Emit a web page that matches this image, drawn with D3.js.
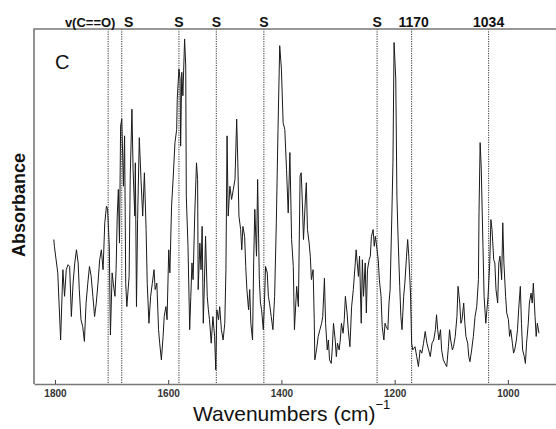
<!DOCTYPE html>
<html>
<head>
<meta charset="utf-8">
<script src="https://cdn.jsdelivr.net/npm/d3@7"></script>
<style>
    body { margin: 0; background: #fff; }
    svg { display: block; font-family: 'Liberation Sans', Arial, sans-serif; }
</style>
</head>
<body>
<div id="display"></div>
<script>
// spectrum (wavenumber in cm-1, absorbance in arbitrary units)
let wavenumbers = [
    1802, 1801, 1795, 1790, 1786, 1783, 1780, 1777, 1774, 1771, 1768, 1765, 1762, 1759, 1757, 1754,
    1751, 1748, 1745, 1742, 1739, 1736, 1733, 1730, 1727, 1724, 1721, 1718, 1715, 1712, 1709, 1707,
    1704, 1702, 1699, 1697, 1694, 1692, 1690, 1688, 1686, 1684, 1682, 1679, 1677, 1675, 1673, 1669,
    1667, 1664, 1662, 1659, 1658, 1656, 1654, 1651, 1648, 1645, 1642, 1639, 1637, 1634, 1631, 1628,
    1625, 1623, 1620, 1617, 1615, 1612, 1609, 1607, 1604, 1602, 1599, 1597, 1594,
    1591, 1588, 1585, 1584, 1581, 1579, 1578, 1576, 1574, 1571, 1569, 1568, 1565, 1562, 1560, 1558,
    1556, 1553, 1550, 1548, 1547, 1544, 1542, 1540, 1538, 1536, 1534, 1531, 1529, 1527, 1524, 1521,
    1518, 1516, 1514, 1511, 1509, 1506, 1503, 1500, 1498, 1496, 1494, 1491, 1488, 1485, 1482, 1479,
    1477, 1475, 1472, 1470, 1468, 1465, 1463, 1461, 1458, 1456, 1454, 1451, 1449, 1447, 1444, 1442,
    1439, 1437, 1435, 1432, 1430, 1428, 1425, 1423, 1421, 1418, 1415, 1412, 1409, 1406, 1403, 1400,
    1397, 1394, 1391, 1388, 1385, 1382, 1379, 1377,
    1373, 1370, 1367, 1365, 1363, 1361, 1358, 1356, 1354, 1351, 1349, 1347, 1344, 1342, 1341, 1338,
    1335, 1332, 1329, 1327, 1324, 1322, 1319, 1317, 1315, 1312, 1310, 1308, 1305, 1303, 1301, 1298,
    1296, 1294, 1291, 1289, 1287, 1284, 1282, 1279, 1276, 1273, 1270, 1268, 1266, 1264, 1262, 1259,
    1257, 1255, 1252, 1250, 1248, 1245, 1243, 1241, 1238, 1236, 1234, 1231, 1229, 1227, 1224, 1222,
    1219, 1217, 1215, 1212, 1210, 1208, 1205, 1203, 1201, 1198, 1196, 1194, 1191, 1189, 1187, 1184,
    1182, 1179, 1177, 1175, 1172, 1170, 1168, 1164,
    1161, 1158, 1155, 1152, 1149, 1146, 1143, 1140, 1137, 1134, 1131, 1128, 1126, 1124, 1122, 1119,
    1117, 1114, 1111, 1108, 1105, 1103, 1101, 1098, 1096, 1093, 1090, 1088, 1085, 1083, 1081, 1078,
    1076, 1074, 1071, 1069, 1067, 1064, 1061, 1058, 1055, 1052, 1051, 1049, 1047, 1044, 1042, 1039,
    1037, 1035, 1032, 1030, 1028, 1025, 1023, 1021, 1018, 1016, 1014, 1011, 1009, 1007, 1004, 1002,
    999, 997, 995, 992, 990, 988, 985, 983, 981, 978, 976, 974, 971, 969, 967, 964,
    962, 959, 957, 955, 952, 950, 948, 945
];
let absorbance = [
    40.7, 38.8, 31.3, 12.4, 32.2, 24.7, 32.2, 33.6, 33.1, 19.0, 28.4, 34.1, 37.8, 34.1, 26.6, 18.1,
    16.2, 12.0, 22.8, 28.4, 33.1, 30.3, 24.7, 19.0, 22.8, 28.4, 35.0, 37.8, 32.2, 45.4, 50.1, 49.2,
    38.8, 13.8, 31.3, 28.4, 24.7, 32.2, 47.3, 54.8, 39.7, 72.7, 74.6, 55.7, 69.9, 28.4, 21.8, 30.3,
    58.6, 77.4, 60.5, 47.3, 62.3, 21.8, 46.3, 69.4, 57.6, 47.3, 59.5, 43.5, 28.4, 17.1, 24.7, 28.4,
    32.2, 26.6, 28.4, 15.3, 11.5, 6.8, 13.4, 19.0, 21.8, 18.1, 37.8, 31.3, 50.1,
    58.6, 68.0, 71.7, 80.2, 88.7, 85.9, 67.0, 87.8, 81.2, 97.2, 89.6, 52.9, 38.8, 15.3, 24.7, 34.1,
    29.4, 48.2, 62.3, 57.6, 26.6, 39.7, 32.2, 44.4, 17.1, 28.4, 41.6, 24.7, 20.9, 18.1, 11.5, 19.0,
    13.4, 4.0, 20.9, 18.1, 21.8, 15.3, 12.4, 17.1, 32.2, 69.9, 47.3, 55.7, 52.0, 54.8, 57.6, 74.6,
    62.3, 47.3, 43.5, 37.8, 44.4, 41.6, 33.1, 26.6, 20.9, 26.6, 17.1, 12.4, 34.1, 49.2, 36.0, 57.6,
    29.4, 22.8, 20.9, 15.3, 22.8, 33.1, 31.3, 24.7, 22.8, 19.0, 15.3, 24.7, 45.4, 71.7, 95.3, 88.7,
    73.6, 71.7, 60.5, 48.2, 65.2, 40.7, 33.1, 15.3,
    27.5, 21.8, 58.6, 59.5, 51.0, 40.7, 51.0, 56.7, 43.5, 39.7, 36.0, 29.4, 32.2, 18.1, 6.8, 9.6,
    13.4, 15.3, 17.1, 19.0, 29.8, 17.1, 9.6, 12.4, 6.8, 5.8, 10.5, 17.1, 12.4, 7.7, 11.5, 9.6,
    12.4, 17.1, 14.3, 18.1, 24.7, 20.0, 15.3, 10.5, 21.8, 26.6, 33.1, 37.8, 34.1, 30.3, 36.0, 17.1,
    35.0, 24.7, 34.1, 20.0, 32.2, 35.0, 36.0, 41.6, 43.5, 38.8, 41.6, 37.8, 35.0, 29.4, 24.7, 16.2,
    12.4, 17.1, 16.2, 15.3, 22.8, 26.6, 47.3, 62.3, 96.2, 85.9, 52.9, 41.6, 27.5, 19.0, 15.3, 24.7,
    28.4, 36.0, 40.7, 36.0, 25.6, 11.5, 9.6, 10.5,
    7.7, 4.9, 9.6, 8.7, 11.5, 14.8, 11.5, 9.6, 7.7, 11.5, 12.4, 15.3, 19.5, 15.3, 12.4, 15.3,
    9.6, 6.8, 5.8, 4.9, 10.5, 15.3, 12.4, 9.6, 10.5, 13.4, 19.0, 27.5, 22.8, 17.1, 18.1, 22.8,
    17.1, 13.4, 11.5, 7.7, 6.3, 9.6, 13.4, 19.0, 21.8, 29.4, 48.2, 68.0, 60.5, 38.8, 24.7, 17.1,
    20.9, 24.7, 34.1, 46.3, 43.5, 35.0, 34.1, 26.6, 22.8, 34.1, 36.0, 29.4, 45.4, 34.1, 24.7, 20.0,
    18.1, 13.4, 15.3, 11.5, 8.7, 9.6, 12.4, 15.3, 20.9, 27.5, 17.1, 9.6, 7.7, 5.8, 11.5, 17.1,
    22.8, 25.6, 22.8, 28.4, 19.0, 13.4, 17.1, 14.3
];

// band assignments marked with dotted lines
let markerWavenumbers = [1706, 1682, 1581, 1515, 1431, 1231, 1170, 1034];
let markerLabels = ['v(C==O)', 'S', 'S', 'S', 'S', 'S', '1170', '1034'];

let xTicks = [1800, 1600, 1400, 1200, 1000];

let width = 556;
let height = 429;
let frame = {left: 34, right: 556, top: 29, bottom: 384};

let svg = d3.select('#display')
    .append('svg')
        .attr('width', width)
        .attr('height', height);

// reversed wavenumber axis
let xScale = d3.scaleLinear()
    .domain([1837, 915])
    .range([frame.left, frame.right]);

let yScale = d3.scaleLinear()
    .domain([0, 100])
    .range([frame.bottom, frame.top]);

// dotted marker lines
svg.append('g')
    .selectAll('line')
    .data(markerWavenumbers)
    .join('line')
        .attr('x1', d => xScale(d))
        .attr('x2', d => xScale(d))
        .attr('y1', frame.top)
        .attr('y2', frame.bottom)
        .attr('stroke', '#333')
        .attr('stroke-width', 1)
        .attr('stroke-dasharray', '1.2,1.2');

// spectrum
let points = wavenumbers.map((w, i) => [w, absorbance[i]]);
svg.append('path')
    .datum(points)
    .attr('fill', 'none')
    .attr('stroke', '#1a1a1a')
    .attr('stroke-width', 1)
    .attr('d', d3.line()
        .x(d => xScale(d[0]))
        .y(d => yScale(d[1])));

// bottom axis, ticks pointing inwards
let xAxis = svg.append('g')
    .attr('transform', 'translate(0,' + frame.bottom + ')')
    .call(d3.axisBottom(xScale)
        .tickValues(xTicks)
        .tickFormat(d3.format('d'))
        .tickSizeInner(-4)
        .tickSizeOuter(0)
        .tickPadding(6));
xAxis.select('.domain')
    .attr('stroke', '#777')
    .attr('stroke-width', 1.6);
xAxis.selectAll('.tick line')
    .attr('stroke', '#444');
xAxis.selectAll('.tick text')
    .attr('fill', '#333')
    .style('font-size', '10px')
    .style('font-weight', 'bold')
    .style('font-family', "'Liberation Sans', Arial, sans-serif");

// left and top frame lines
svg.append('path')
    .attr('d', 'M' + frame.left + ',' + frame.bottom + 'V' + frame.top + 'H' + frame.right)
    .attr('fill', 'none')
    .attr('stroke', '#777')
    .attr('stroke-width', 1.6);

// labels over the marker lines, first two nudged apart
let labelDx = [-18, 7, 0, 0, 0, 0, 2, 0];
svg.append('g')
    .selectAll('text')
    .data(markerLabels)
    .join('text')
        .attr('x', (d, i) => xScale(markerWavenumbers[i]) + labelDx[i])
        .attr('y', 27)
        .attr('text-anchor', 'middle')
        .style('font-size', (d, i) => i === 0 ? '13px' : '14px')
        .style('font-weight', 'bold')
        .attr('fill', '#111')
        .text(d => d);

// panel letter
svg.append('text')
    .attr('x', 55)
    .attr('y', 69)
    .style('font-size', '20px')
    .attr('fill', '#111')
    .text('C');

// axis titles
svg.append('text')
    .attr('transform', 'translate(25,205) rotate(-90)')
    .attr('text-anchor', 'middle')
    .style('font-size', '18px')
    .style('font-weight', 'bold')
    .attr('fill', '#111')
    .text('Absorbance');

let xTitle = svg.append('text')
    .attr('x', 193)
    .attr('y', 421)
    .style('font-size', '21px')
    .attr('fill', '#111');
xTitle.append('tspan').text('Wavenumbers (cm)');
xTitle.append('tspan')
    .attr('dy', -12)
    .style('font-size', '13px')
    .text('\u22121');
</script>
</body>
</html>
